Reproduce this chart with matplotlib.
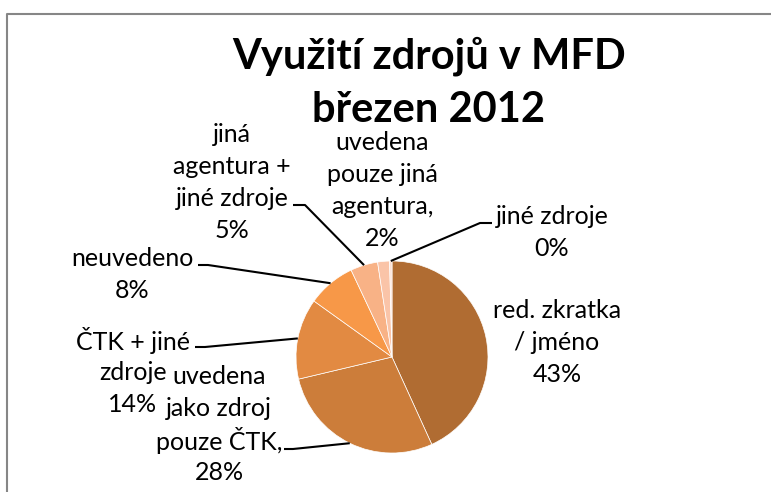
import numpy as np
import matplotlib.pyplot as plt

plt.rcParams['font.family'] = ['Lato', 'DejaVu Sans']

# data (share in %)
categories = ["red. zkratka\n/ jméno", "uvedena\njako zdroj\npouze ČTK,", "ČTK + jiné\nzdroje",
              "neuvedeno", "jiná\nagentura +\njiné zdroje", "uvedena\npouze jiná\nagentura,",
              "jiné zdroje"]
values = [43.2, 28.1, 13.6, 8.1, 4.6, 2.0, 0.4]
colors = ["#B06C32", "#CC7D3A", "#E28A42", "#F79848", "#F8B286", "#FAC4A8", "#FCE0D4"]
title_lines = ["Využití zdrojů v MFD", "březen 2012"]

W, H = 771, 492

# layout in pixel coords (x right, y down)
pie_center = (392, 357)
pie_radius = 96
label_pos = [(557, 343), (219, 425), (133, 372), (132, 274), (232, 183), (382, 191), (552, 233)]
line_pitch = 32
title_baselines = [69, 122]
# leader line: (anchor near label, elbow) or None
leaders = [None, ((284, 449), (293, 449)), ((195, 347), (205, 347)), ((198, 265), (208, 265)),
           ((293, 205), (305, 205)), None, ((492, 223), (480, 223))]


def px(x, y):
    return x, H - y


fig = plt.figure(figsize=(W / 100, H / 100), dpi=100)
ax = fig.add_axes([0, 0, 1, 1])

wedges, _ = ax.pie(values, colors=colors, startangle=90, counterclock=False,
                   center=px(*pie_center), radius=pie_radius,
                   wedgeprops=dict(edgecolor="white", linewidth=0.5))

ax.set_xlim(0, W)
ax.set_ylim(0, H)
ax.set_aspect("equal")
ax.axis("off")

for w, cat, v, pos, lead in zip(wedges, categories, values, label_pos, leaders):
    lines = ("%s\n%d%%" % (cat, round(v))).split("\n")
    n = len(lines)
    # one text per line so the blocks can sit close like in Excel
    for i, s in enumerate(lines):
        y = pos[1] + (i - (n - 1) / 2) * line_pitch
        ax.text(*px(pos[0], y), s, ha="center", va="center", fontsize=18)
    if lead is not None:
        ang = np.deg2rad((w.theta1 + w.theta2) / 2)
        cx, cy = w.center
        rim = (cx + w.r * np.cos(ang), cy + w.r * np.sin(ang))
        a, e = px(*lead[0]), px(*lead[1])
        ax.plot([a[0], e[0], rim[0]], [a[1], e[1], rim[1]], color="black", lw=1.5,
                solid_capstyle="butt")

for s, yb in zip(title_lines, title_baselines):
    ax.text(*px(429, yb), s, ha="center", va="baseline", fontsize=30, fontweight="bold")

# chart border (cut off at right and bottom)
ax.plot([7, 7, W], [0, H - 14, H - 14], color="#868686", lw=1.5)

fig.savefig("out.png", dpi=100)
